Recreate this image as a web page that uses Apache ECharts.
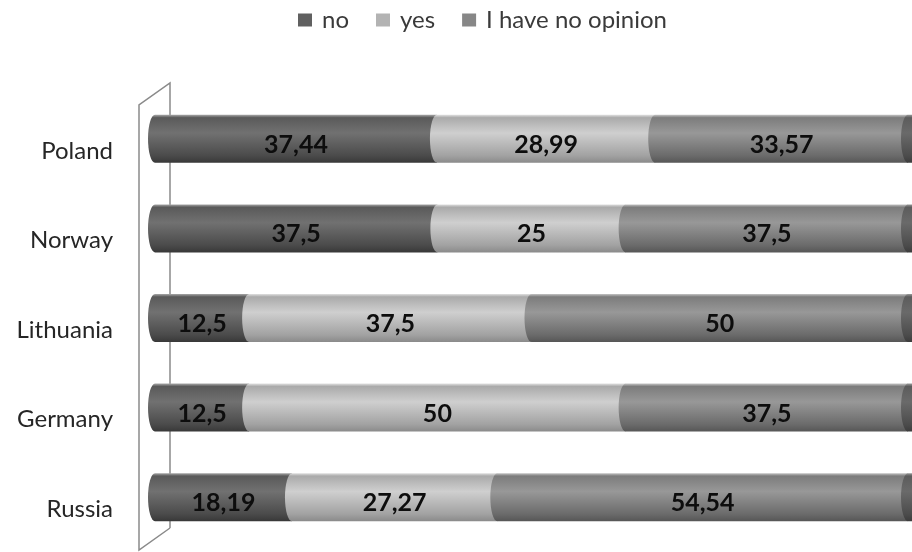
<!DOCTYPE html>
<html>
<head>
<meta charset="utf-8">
<script src="https://cdn.jsdelivr.net/npm/echarts@6/dist/echarts.min.js"></script>
<style>
  html, body { margin: 0; padding: 0; background: #fff; }
  #main { width: 912px; height: 552px; }
</style>
</head>
<body>
<div id="main"></div>
<script>
// data
var categories = ['Poland', 'Norway', 'Lithuania', 'Germany', 'Russia'];
var seriesNames = ['no', 'yes', 'I have no opinion'];
var noVals = [37.44, 37.5, 12.5, 12.5, 18.19];
var yesVals = [28.99, 25, 37.5, 50, 27.27];
var opinionVals = [33.57, 37.5, 50, 37.5, 54.54];

var FONT = 'Lato, "Open Sans", sans-serif';

// cylinder shading, top to bottom
var shades = [
    ['#a8a8a8', '#5a5a5a', '#717171', '#4b4b4b', '#383838'],
    ['#e0e0e0', '#aaaaaa', '#cfcfcf', '#a2a2a2', '#8a8a8a'],
    ['#c4c4c4', '#7c7c7c', '#989898', '#6b6b6b', '#565656']
];
var legendColors = ['#606060', '#b3b3b3', '#878787'];

function grad(c) {
    return new echarts.graphic.LinearGradient(0, 0, 0, 1, [
        {offset: 0, color: c[0]},
        {offset: 0.06, color: c[1]},
        {offset: 0.38, color: c[2]},
        {offset: 0.85, color: c[3]},
        {offset: 1, color: c[4]}
    ]);
}

function fmt(v) {
    return String(v).replace('.', ',');
}

// build [catIndex, start, end, value] rows for each stack level
var all = [noVals, yesVals, opinionVals];
var stacked = all.map(function (vals, s) {
    return vals.map(function (v, i) {
        var start = 0;
        for (var k = 0; k < s; k++) start += all[k][i];
        return [i, start, start + v, v];
    });
});

function makeRender(s) {
    return function (params, api) {
        var cat = api.value(0);
        var p0 = api.coord([api.value(1), cat]);
        var p1 = api.coord([api.value(2), cat]);
        var h = api.size([0, 1])[1] * 0.536;
        var yT = p0[1] - h / 2, yB = p0[1] + h / 2;
        var rx = 7, ry = h / 2;
        var x0 = p0[0], x1 = p1[0];
        var children = [{
            type: 'path',
            shape: {
                pathData: 'M' + x0 + ' ' + yT + ' L' + x1 + ' ' + yT + ' L' + x1 + ' ' + yB +
                    ' L' + x0 + ' ' + yB + ' A' + rx + ' ' + ry + ' 0 0 1 ' + x0 + ' ' + yT + ' Z'
            },
            style: {fill: grad(shades[s])}
        }];
        if (s === all.length - 1) {
            // end face of the cylinder
            children.push({
                type: 'path',
                shape: {
                    pathData: 'M' + x1 + ' ' + yT + ' A' + rx + ' ' + ry + ' 0 0 0 ' + x1 + ' ' + yB +
                        ' L' + (x1 + 30) + ' ' + yB + ' L' + (x1 + 30) + ' ' + yT + ' Z'
                },
                style: {fill: grad(['#9a9a9a', '#5c5c5c', '#6a6a6a', '#4c4c4c', '#3c3c3c'])}
            });
        }
        children.push({
            type: 'text',
            style: {
                text: fmt(api.value(3)),
                x: (x0 + x1) / 2,
                y: p0[1] + 6,
                align: 'center',
                verticalAlign: 'middle',
                font: 'bold 25px ' + FONT,
                fill: '#0d0d0d'
            }
        });
        return {type: 'group', children: children};
    };
}

var chart = echarts.init(document.getElementById('main'));

var option = {
    backgroundColor: '#fff',
    animation: false,
    legend: {
        left: 293,
        top: 3,
        itemWidth: 14,
        itemHeight: 13,
        itemGap: 27,
        icon: 'rect',
        textStyle: {fontFamily: FONT, fontSize: 24, color: '#3a3a3a', padding: [0, 0, 0, 5]},
        data: seriesNames
    },
    grid: {left: 155, right: 4, top: 94, height: 448},
    xAxis: {type: 'value', min: 0, max: 100, show: false},
    yAxis: {
        type: 'category',
        inverse: true,
        data: categories,
        axisLine: {show: false},
        axisTick: {show: false},
        splitLine: {show: false},
        axisLabel: {margin: 42, fontFamily: FONT, fontSize: 24, color: '#262626', verticalAlign: 'top'}
    },
    graphic: [{
        type: 'polyline',
        z: 0,
        shape: {points: [[170, 528], [170, 83], [139, 105], [139, 550], [170, 528]]},
        style: {fill: 'none', stroke: '#8a8a8a', lineWidth: 1.5}
    }],
    series: stacked.map(function (rows, s) {
        return {
            name: seriesNames[s],
            type: 'custom',
            z: 5,
            itemStyle: {color: legendColors[s]},
            encode: {x: [1, 2], y: 0},
            renderItem: makeRender(s),
            data: rows
        };
    })
};

chart.setOption(option);
</script>
</body>
</html>
